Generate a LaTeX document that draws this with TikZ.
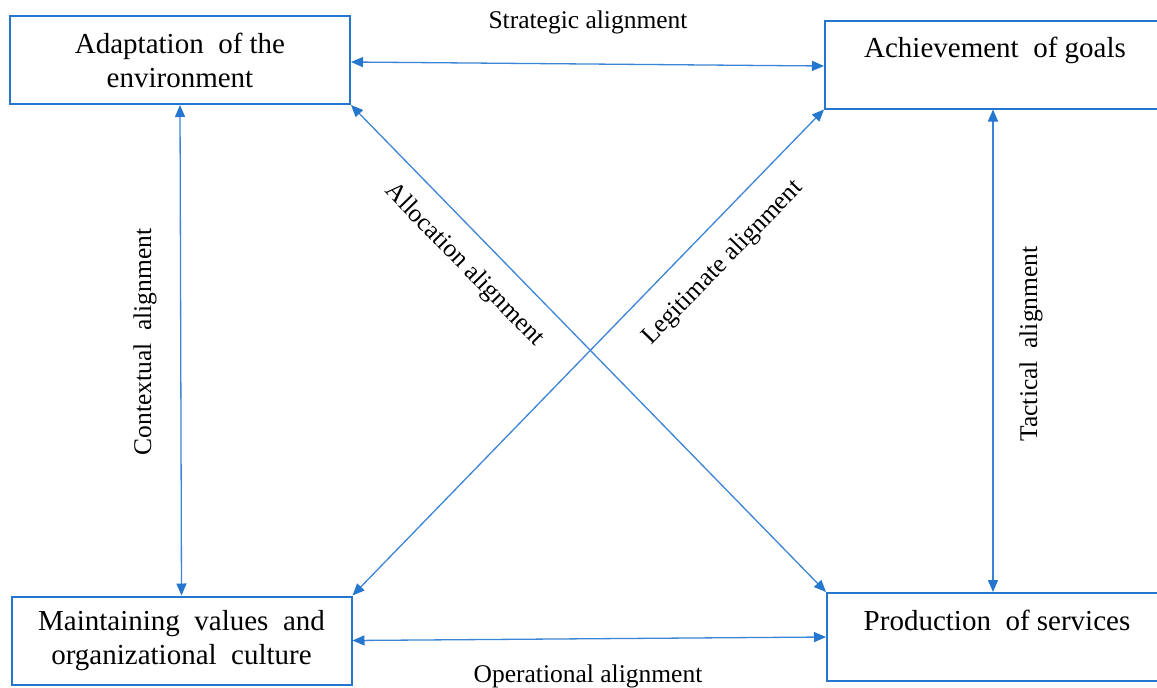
\documentclass[tikz,border=0pt]{standalone}
\usepackage{fontspec}
\setmainfont{Liberation Serif}
\usetikzlibrary{arrows.meta}
\definecolor{boxblue}{RGB}{36,118,206}
\definecolor{lineblue}{RGB}{60,132,214}
\tikzset{
  box/.style={draw=boxblue, line width=2pt, minimum width=340pt, minimum height=88pt,
    inner sep=0pt, align=center, font=\fontsize{29}{34}\selectfont},
  link/.style={draw=lineblue, line width=1.3pt,
    {Triangle[length=12pt,width=10pt,color=boxblue]}-{Triangle[length=12pt,width=10pt,color=boxblue]}},
  lab/.style={font=\fontsize{25.5}{30}\selectfont, inner sep=0pt}
}
\begin{document}
\begin{tikzpicture}[x=1pt,y=-1pt]
\useasboundingbox (0,0) rectangle (1157,688);
\clip (0,0) rectangle (1157,688);
\node[box] (tl) at (180,60) {Adaptation\ \ of the\\environment};
\node[box] (tr) at (995,64.5) {Achievement\ \ of goals\\\mbox{}};
\node[box] (bl) at (181.5,640.5) {Maintaining\ \ values\ \ and\\organizational\ \ culture};
\node[box] (br) at (997,637) {Production\ \ of services\\\mbox{}};
\draw[link] ([yshift=-2pt]tl.east) -- ([yshift=-1.5pt]tr.west);
\draw[link] (bl.east) -- (br.west);
\draw[link] (tl.south) -- (bl.north);
\draw[link] ([xshift=-2pt]tr.south) -- ([xshift=-4pt]br.north);
\draw[link] (tl.south east) -- (br.north west);
\draw[link] (tr.south west) -- (bl.north east);
\node[lab] (ls) at (588,22) {Strategic alignment};
\node[lab] (lo) at (588,676) {Operational alignment};
\node[lab, rotate=90] (lc) at (145,342) {Contextual\ \ alignment};
\node[lab, rotate=90] (lt) at (1031,344) {Tactical\ \ alignment};
\node[lab, rotate=-45.7] (la) at (464,265) {Allocation alignment};
\node[lab, rotate=45.8] (lg) at (723,263) {Legitimate alignment};
\end{tikzpicture}
\end{document}
